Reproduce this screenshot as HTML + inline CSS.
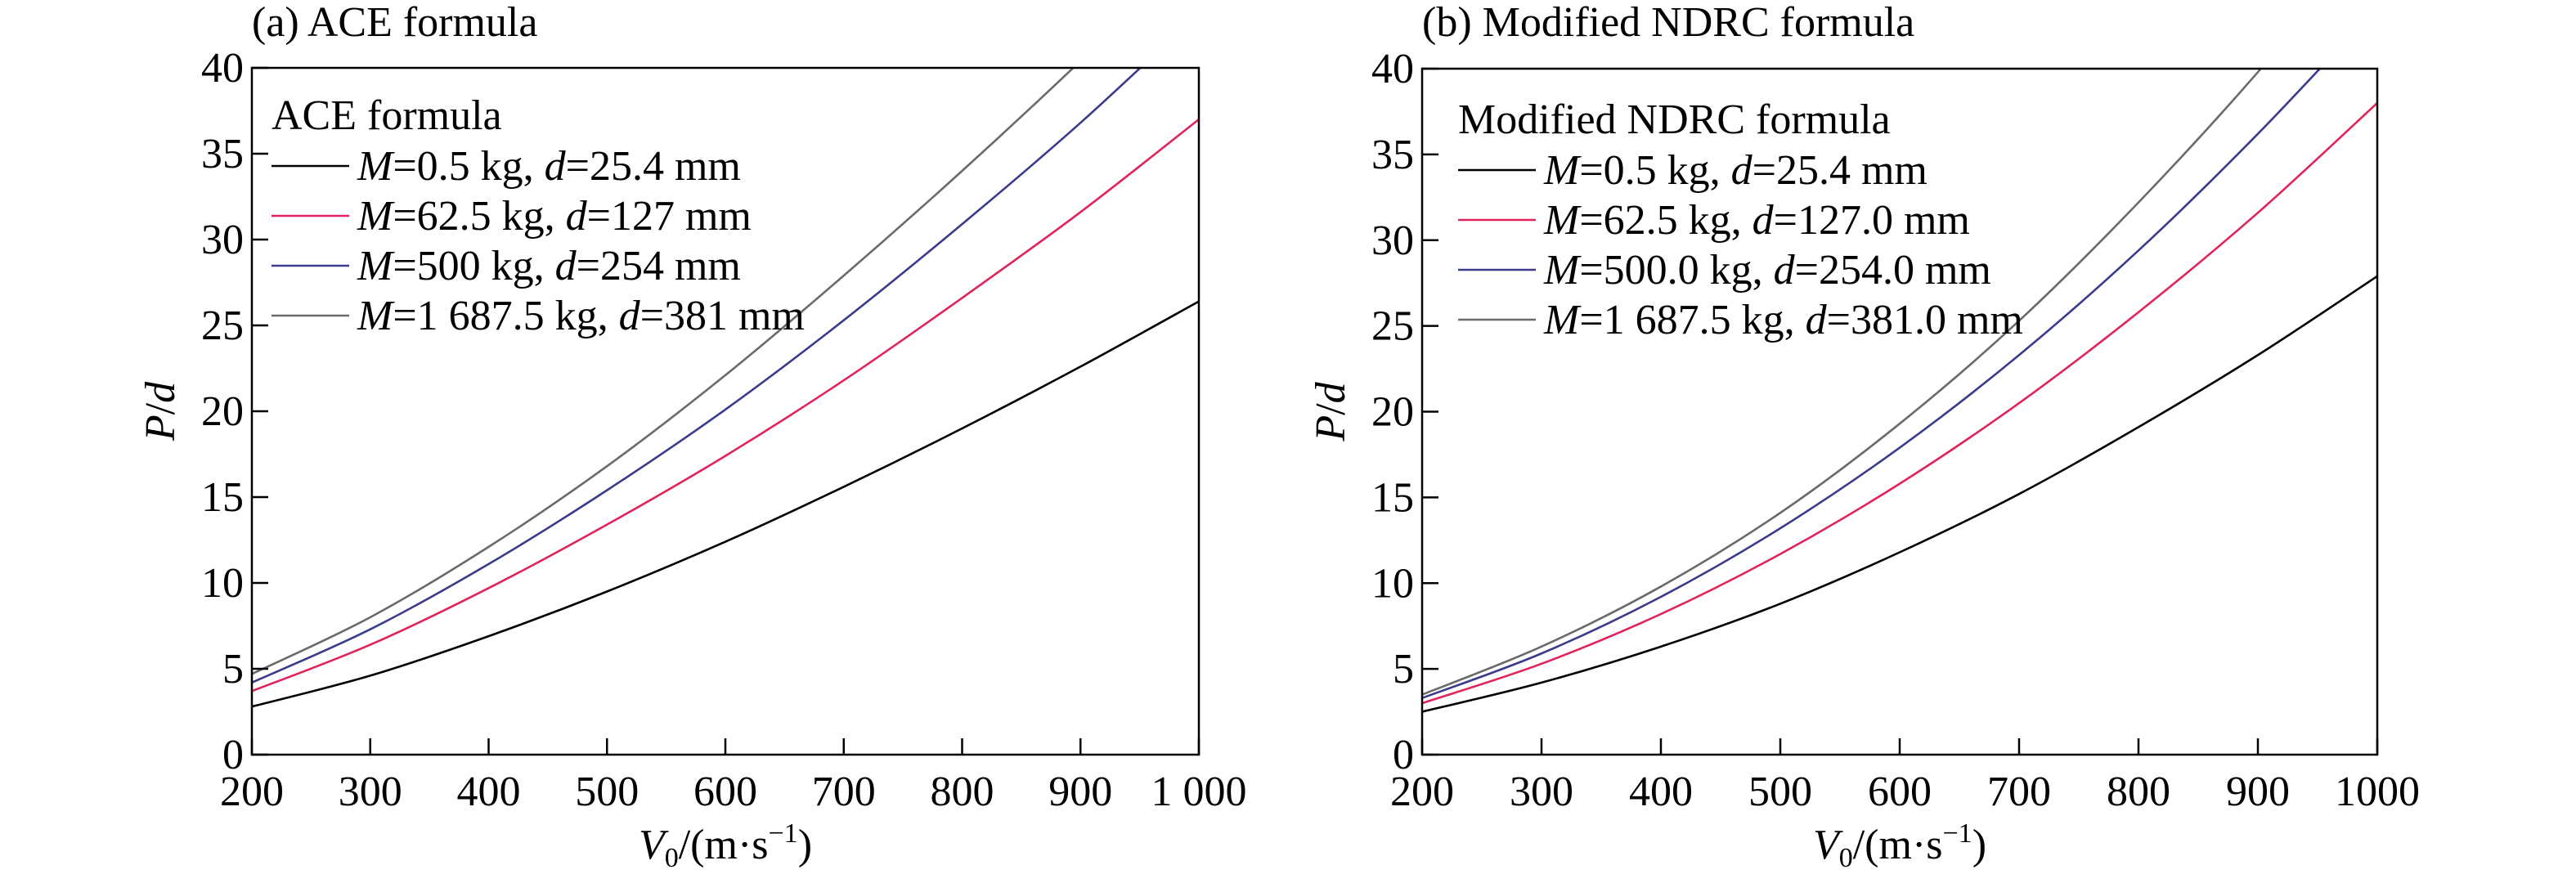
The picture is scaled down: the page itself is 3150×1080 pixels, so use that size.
<!DOCTYPE html>
<html><head><meta charset="utf-8"><style>
html,body{margin:0;padding:0;background:#fff;}
svg{display:block;font-family:"Liberation Serif",serif;}
</style></head><body>
<svg id="chart" width="3150" height="1080" viewBox="0 0 3150 1080"></svg>
<script>
const xTicks=[200,300,400,500,600,700,800,900,1000];
const yTicks=[0,5,10,15,20,25,30,35,40];
const xTickLabelsA=["200","300","400","500","600","700","800","900","1 000"];
const xTickLabelsB=["200","300","400","500","600","700","800","900","1000"];
const vel=[200,300,400,500,600,700,800,900,1000];
const aceBlack=[2.8,4.6,6.9,9.5,12.4,15.6,19.0,22.6,26.4];
const aceRed=[3.7,6.4,9.7,13.4,17.4,21.8,26.6,31.6,37.0];
const aceBlue=[4.2,7.3,11.1,15.4,20.1,25.3,30.9,36.8,43.2];
const aceGray=[4.7,8.0,12.1,16.8,22.1,27.9,34.0,40.4,47.1];
const ndrcBlack=[2.5,4.2,6.3,8.8,11.8,15.2,19.1,23.3,27.9];
const ndrcRed=[3.0,5.3,8.2,11.7,15.8,20.5,25.8,31.6,38.0];
const ndrcBlue=[3.3,5.9,9.2,13.2,17.9,23.3,29.4,36.2,43.6];
const ndrcGray=[3.5,6.3,9.8,14.1,19.3,25.3,32.2,39.8,48.2];
const legendA=["0.5 kg, |25.4 mm","62.5 kg, |127 mm","500 kg, |254 mm","1 687.5 kg, |381 mm"];
const legendB=["0.5 kg, |25.4 mm","62.5 kg, |127.0 mm","500.0 kg, |254.0 mm","1 687.5 kg, |381.0 mm"];
const colors=["#000000","#e0245a","#3b3b8c","#6a6a6a"];
const NS="http://www.w3.org/2000/svg";
const svg=document.getElementById('chart');
function el(t,a,p){const e=document.createElementNS(NS,t);for(const k in a)e.setAttribute(k,a[k]);(p||svg).appendChild(e);return e;}

function panel(id,L,R,T,B,title,legTitle,legX,legY,labels,series,xLabels){
  const g=el('g',{});
  
  
  const sx=v=>L+(v-200)/800*(R-L);
  const sy=v=>B-v/40*(B-T);
  const cp=el('clipPath',{id:id+'-clip'},g);
  el('rect',{x:L,y:T,width:R-L,height:B-T},cp);
  series.forEach((s,i)=>{
    const pts=vel.map((v,j)=>[sx(v),sy(s[j])]);
    let d='M'+pts[0][0]+','+pts[0][1];
    for(let j=0;j<pts.length-1;j++){
      const p0=pts[Math.max(0,j-1)],p1=pts[j],p2=pts[j+1],p3=pts[Math.min(pts.length-1,j+2)];
      d+=' C'+(p1[0]+(p2[0]-p0[0])/6)+','+(p1[1]+(p2[1]-p0[1])/6)+' '+(p2[0]-(p3[0]-p1[0])/6)+','+(p2[1]-(p3[1]-p1[1])/6)+' '+p2[0]+','+p2[1];
    }
    const path=el('path',{d:d,fill:'none',stroke:colors[i],'stroke-width':2.6,'clip-path':'url(#'+id+'-clip)'},g);
    
    
  });
  const frame=el('rect',{x:L,y:T,width:R-L,height:B-T,fill:'none',stroke:'#000','stroke-width':2.5},g);
  
  
  xTicks.forEach((v,i)=>{
    el('line',{x1:sx(v),x2:sx(v),y1:B,y2:B-20,stroke:'#000','stroke-width':2.5},g);
    const t=el('text',{x:sx(v),y:985,'font-size':52,'text-anchor':'middle'},g);
    t.textContent=xLabels[i];
    
    
  });
  yTicks.forEach(v=>{
    el('line',{x1:L,x2:L+20,y1:sy(v),y2:sy(v),stroke:'#000','stroke-width':2.5},g);
    const t=el('text',{x:L-10,y:sy(v)+17,'font-size':52,'text-anchor':'end'},g);
    t.textContent=v;
    
    
  });
  const tt=el('text',{x:L,y:44,'font-size':52},g);
  tt.textContent=title;
  
  
  const xl=el('text',{x:(L+R)/2,y:1050,'font-size':52,'text-anchor':'middle'},g);
  xl.innerHTML='<tspan font-style="italic">V</tspan><tspan font-size="34" dy="10">0</tspan><tspan dy="-10">/(m·s</tspan><tspan font-size="34" dy="-20">−1</tspan><tspan dy="20">)</tspan>';
  
  
  const yl=el('text',{x:0,y:0,'font-size':52,'text-anchor':'middle',transform:'translate('+(L-95)+','+((T+B)/2)+') rotate(-90)'},g);
  yl.innerHTML='<tspan font-style="italic">P</tspan>/<tspan font-style="italic">d</tspan>';
  
  
  const lt=el('text',{x:legX,y:legY,'font-size':52},g);
  lt.textContent=legTitle;
  
  
  labels.forEach((s,i)=>{
    const cy=legY+45+i*61;
    const ln=el('line',{x1:legX,x2:legX+95,y1:cy,y2:cy,stroke:colors[i],'stroke-width':2.6},g);
    
    
    const parts=s.split('|');
    const t=el('text',{x:legX+105,y:cy+17,'font-size':52},g);
    t.innerHTML='<tspan font-style="italic">M</tspan>='+parts[0]+'<tspan font-style="italic">d</tspan>='+parts[1];
    
    
  });
}
panel('panel-ace',308,1466,83,923,'(a) ACE formula','ACE formula',332,158,legendA,[aceBlack,aceRed,aceBlue,aceGray],xTickLabelsA);
panel('panel-ndrc',1739,2907,84,923,'(b) Modified NDRC formula','Modified NDRC formula',1783,163,legendB,[ndrcBlack,ndrcRed,ndrcBlue,ndrcGray],xTickLabelsB);
</script>
</body></html>
